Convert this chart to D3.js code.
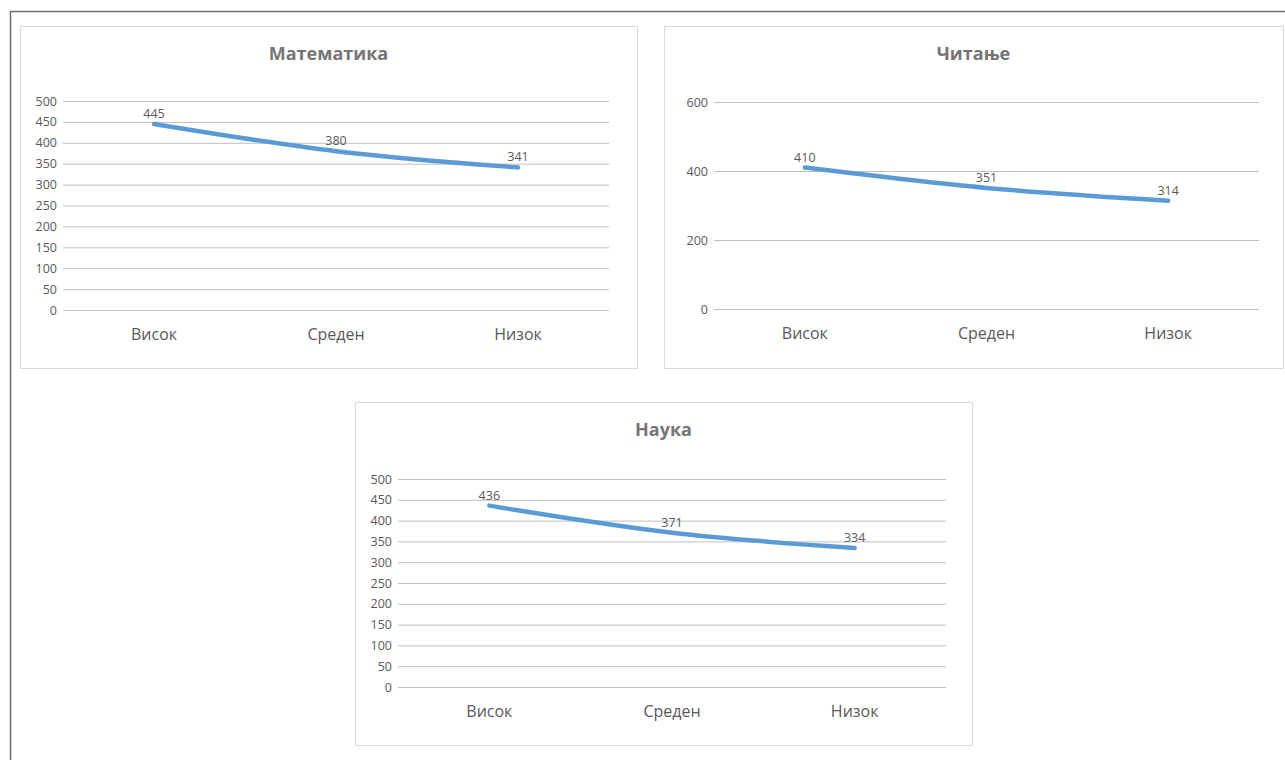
<!DOCTYPE html>
<html>
<head>
<meta charset="utf-8">
<script src="https://cdn.jsdelivr.net/npm/d3@7"></script>
<style>
  body { margin: 0; background: #fff; }
  text { font-family: "Open Sans", "Noto Sans", sans-serif; }
</style>
</head>
<body>
<script>
// categories and values
const categories = ["Висок", "Среден", "Низок"];
const matematika = [445, 380, 341];
const citanje = [410, 351, 314];
const nauka = [436, 371, 334];
const ticksMat = [0, 50, 100, 150, 200, 250, 300, 350, 400, 450, 500];
const ticksCit = [0, 200, 400, 600];

const svg = d3.select("body").append("svg")
    .attr("width", 1285)
    .attr("height", 760);

// outer frame
svg.append("path")
    .attr("d", "M10.5,760 V11.5 H1285")
    .attr("fill", "none")
    .attr("stroke", "#6f6f6f")
    .attr("stroke-width", 1.5);

// draws one panel
function panel(opts) {
    const g = svg.append("g")
        .attr("transform", `translate(${opts.x}, ${opts.y})`);

    g.append("rect")
        .attr("x", 0.5).attr("y", 0.5)
        .attr("width", opts.w).attr("height", opts.h)
        .attr("fill", "#fff")
        .attr("stroke", "#d9d9d9");

    g.append("text")
        .attr("x", opts.w / 2)
        .attr("y", 34)
        .attr("text-anchor", "middle")
        .attr("font-size", "18px")
        .attr("font-weight", "bold")
        .attr("fill", "#757575")
        .text(opts.title);

    const x = d3.scaleBand()
        .domain(categories)
        .range([opts.left, opts.right]);

    const y = d3.scaleLinear()
        .domain([0, d3.max(opts.ticks)])
        .range([opts.bottom, opts.top]);

    // grid
    const axeY = d3.axisLeft(y)
        .tickValues(opts.ticks)
        .tickSize(-(opts.right - opts.left))
        .tickPadding(6);

    const gy = g.append("g")
        .attr("transform", `translate(${opts.left}, 0)`)
        .call(axeY);
    gy.select(".domain").remove();
    gy.selectAll("line").attr("stroke", "#bfbfbf");
    gy.selectAll("text")
        .attr("fill", "#595959")
        .style("font-size", "12.5px");

    // categories
    const axeX = d3.axisBottom(x).tickSize(0).tickPadding(19);
    const gx = g.append("g")
        .attr("transform", `translate(0, ${opts.bottom})`)
        .call(axeX);
    gx.select(".domain").remove();
    gx.selectAll("text")
        .attr("fill", "#595959")
        .style("font-size", "16px");

    const valueLine = d3.line()
        .x((d, i) => x(categories[i]) + x.bandwidth() / 2)
        .y(d => y(d))
        .curve(d3.curveCatmullRom.alpha(0.5));

    g.append("path")
        .attr("d", valueLine(opts.values))
        .attr("fill", "none")
        .attr("stroke", "#5b9bd5")
        .attr("stroke-width", 4.5)
        .attr("stroke-linecap", "round");

    g.selectAll(".lbl")
        .data(opts.values)
        .enter().append("text")
        .attr("x", (d, i) => x(categories[i]) + x.bandwidth() / 2)
        .attr("y", d => y(d) - 6)
        .attr("text-anchor", "middle")
        .attr("font-size", "12.5px")
        .attr("fill", "#595959")
        .text(d => d);
}

panel({x: 20, y: 26, w: 617, h: 342, title: "Математика",
       left: 43, right: 589, top: 75, bottom: 284,
       ticks: ticksMat, values: matematika});

panel({x: 664, y: 26, w: 619, h: 342, title: "Читање",
       left: 50, right: 595, top: 76, bottom: 283,
       ticks: ticksCit, values: citanje});

panel({x: 355, y: 402, w: 617, h: 343, title: "Наука",
       left: 43, right: 591, top: 77, bottom: 285,
       ticks: ticksMat, values: nauka});
</script>
</body>
</html>
